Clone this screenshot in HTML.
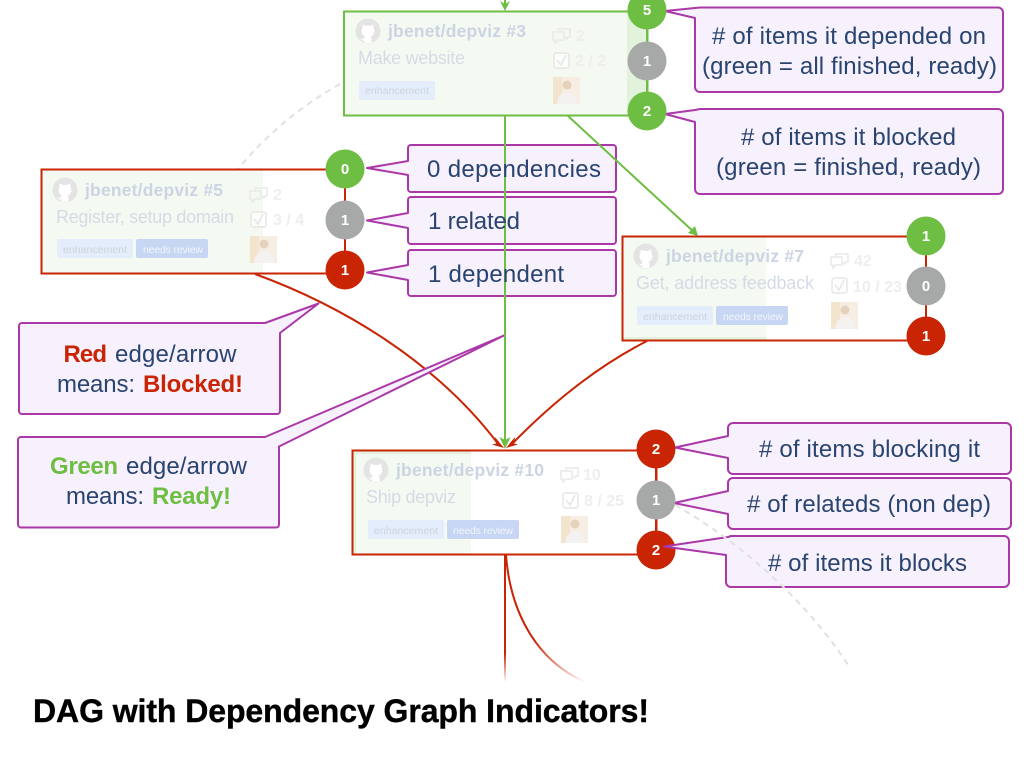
<!DOCTYPE html>
<html><head><meta charset="utf-8"><style>
html,body{margin:0;padding:0;background:#fff;width:1024px;height:768px;overflow:hidden}
svg{display:block}
text{font-family:"Liberation Sans",sans-serif}
.c{fill:#f6f1fc;stroke:#ab38a8;stroke-width:2;stroke-linejoin:round}
.t{font-size:24px;fill:#2a4470}
.b{font-size:24px;font-weight:bold}
.n{font-size:15px;font-weight:bold;fill:#fff;text-anchor:middle}
.h{font-size:17.5px;font-weight:bold;fill:#ccd4e3}
.s{font-size:18px;fill:#d5dbe6}
.m{font-size:16px;font-weight:bold;fill:#eeeeee}
.l1{font-size:10.5px;fill:#cdd4da}
.l2{font-size:10.5px;fill:#f2f6fd}
.e{fill:none;stroke-width:2}
</style></head><body>
<svg width="1024" height="768" viewBox="0 0 1024 768" xmlns="http://www.w3.org/2000/svg">
<defs>
<linearGradient id="fa" gradientUnits="userSpaceOnUse" x1="0" y1="650" x2="0" y2="682"><stop offset="0" stop-color="#c92505"/><stop offset=".1" stop-color="#c92505"/><stop offset="1" stop-color="#c92505" stop-opacity="0"/></linearGradient>
<linearGradient id="fb" gradientUnits="userSpaceOnUse" x1="535" y1="640" x2="585" y2="682"><stop offset="0" stop-color="#c92505"/><stop offset="1" stop-color="#c92505" stop-opacity="0"/></linearGradient>
<g id="gh"><circle cx="12" cy="12" r="12.5" fill="#e4e4e4"/><path d="M7 5.5L10 7Q12 6.5 14 7L17 5.5Q18 8 17.5 9.5Q19 11.5 18 14.5Q17 17 14.5 17.5Q15.5 18.5 15.5 20V24H8.5V21.5Q5.5 22 4.5 19.5Q6 20 8 20V18Q8.7 17.7 9.5 17.5Q7 17 6 14.5Q5 11.5 6.5 9.5Q6 8 7 5.5z" fill="#fff"/></g>
<g id="ic"><path d="M1 4h11v8H6l-3 3v-3H1z" fill="none" stroke="#e9e9e9" stroke-width="1.5"/><path d="M6 4V1h12v8h-2l-1 2-2-2" fill="none" stroke="#e9e9e9" stroke-width="1.5"/></g>
<g id="ck"><rect x="1" y="1" width="15" height="15" rx="2.5" fill="#fff" fill-opacity=".5" stroke="#e6e6e6" stroke-width="1.5"/><path d="M4 8l4 5 5-10" fill="none" stroke="#e6e6e6" stroke-width="1.5"/></g>
<g id="av"><rect width="27" height="27" fill="#f6eee2"/><rect width="9" height="27" fill="#f3e4cd"/><circle cx="14" cy="8" r="4.5" fill="#e6d2bc"/><path d="M4 27q1-11 10-12q9 1 10 12z" fill="#f4f1f1"/></g>
</defs>

<path d="M340 84Q280 118 238 169" fill="none" stroke="#e0e0e0" stroke-width="2" stroke-dasharray="6 5"/>

<rect x="344" y="12" width="303" height="103.5" fill="#f4faf2"/>
<rect x="627" y="12" width="20" height="103.5" fill="#e3f2dc"/>
<rect x="344" y="11.5" width="303.5" height="104" fill="none" stroke="#6fbe44" stroke-width="2"/>
<rect x="42" y="170" width="221" height="103.5" fill="#f4faf2"/>
<rect x="41.5" y="169.5" width="303.5" height="104" fill="none" stroke="#c92505" stroke-width="2"/>
<rect x="623" y="237" width="143" height="103.5" fill="#f4faf2"/>
<rect x="623" y="337" width="143" height="3" fill="#e3f2dc"/>
<rect x="622.5" y="236.5" width="303.5" height="104" fill="none" stroke="#c92505" stroke-width="2"/>
<rect x="353" y="451" width="118" height="103.5" fill="#f4faf2"/>
<rect x="353" y="451" width="118" height="3" fill="#e3f2dc"/>
<rect x="353" y="451" width="3" height="103" fill="#e3f2dc"/>
<rect x="352.5" y="450.5" width="304" height="104" fill="none" stroke="#c92505" stroke-width="2"/>

<g transform="translate(344,11)">
<use href="#gh" x="12" y="8"/>
<text class="h" x="44" y="26" textLength="138">jbenet/depviz #3</text>
<text class="s" x="14" y="53" textLength="107">Make website</text>
<rect x="15" y="70" width="76" height="19" rx="2" fill="#e3edfb"/>
<text class="l1" x="21" y="83" textLength="64">enhancement</text>
<use href="#ic" x="208" y="17"/><text class="m" x="232" y="30">2</text>
<use href="#ck" x="209" y="41"/><text class="m" x="231" y="55">2 / 2</text>
<use href="#av" x="209" y="66"/>
</g>
<g transform="translate(41,169)">
<use href="#gh" x="12" y="9"/>
<text class="h" x="44" y="27" textLength="138">jbenet/depviz #5</text>
<text class="s" x="15" y="54" textLength="178">Register, setup domain</text>
<rect x="16" y="70" width="76" height="19" rx="2" fill="#e3edfb"/>
<text class="l1" x="22" y="84" textLength="64">enhancement</text>
<rect x="95" y="70" width="72" height="19" rx="2" fill="#c6d6f3"/>
<text class="l2" x="102" y="84" textLength="60">needs review</text>
<use href="#ic" x="208" y="18"/><text class="m" x="232" y="31">2</text>
<use href="#ck" x="209" y="42"/><text class="m" x="232" y="56">3 / 4</text>
<use href="#av" x="209" y="67"/>
</g>
<g transform="translate(622,236)">
<use href="#gh" x="12" y="8"/>
<text class="h" x="44" y="26" textLength="138">jbenet/depviz #7</text>
<text class="s" x="14" y="53" textLength="178">Get, address feedback</text>
<rect x="15" y="70" width="76" height="19" rx="2" fill="#e3edfb"/>
<text class="l1" x="21" y="84" textLength="64">enhancement</text>
<rect x="94" y="70" width="72" height="19" rx="2" fill="#c6d6f3"/>
<text class="l2" x="101" y="84" textLength="60">needs review</text>
<use href="#ic" x="208" y="17"/><text class="m" x="232" y="30">42</text>
<use href="#ck" x="209" y="41"/><text class="m" x="231" y="56">10 / 23</text>
<use href="#av" x="209" y="66"/>
</g>
<g transform="translate(352,450)">
<use href="#gh" x="12" y="8"/>
<text class="h" x="44" y="26" textLength="148">jbenet/depviz #10</text>
<text class="s" x="14" y="53" textLength="90">Ship depviz</text>
<rect x="16" y="70" width="76" height="19" rx="2" fill="#e3edfb"/>
<text class="l1" x="22" y="84" textLength="64">enhancement</text>
<rect x="95" y="70" width="72" height="19" rx="2" fill="#c6d6f3"/>
<text class="l2" x="101" y="84" textLength="60">needs review</text>
<use href="#ic" x="208" y="17"/><text class="m" x="231" y="30">10</text>
<use href="#ck" x="210" y="42"/><text class="m" x="232" y="56">8 / 25</text>
<use href="#av" x="209" y="66"/>
</g>

<path class="e" stroke="#c92505" d="M255 274C340 305 435 360 499 445"/>
<path class="e" stroke="#c92505" d="M647 341C590 370 545 410 511 445"/>
<path class="e" stroke="url(#fa)" d="M505 555V682"/>
<path class="e" stroke="url(#fb)" d="M506 555C510 610 535 660 585 682"/>
<path d="M495 437l9 11-12-3.5 4-1z" fill="#c92505"/>
<path d="M515 437l-9 11 12-3.5-4-1z" fill="#c92505"/>

<path class="c" d="M700 7.5H998a5 5 0 0 1 5 5V87a5 5 0 0 1-5 5H700a5 5 0 0 1-5-5V18L665 11L695 8z"/>
<path class="c" d="M700 109H998a5 5 0 0 1 5 5V189a5 5 0 0 1-5 5H700a5 5 0 0 1-5-5V122L665 114L695 110z"/>
<path class="c" d="M411 145H613a3 3 0 0 1 3 3V189a3 3 0 0 1-3 3H411a3 3 0 0 1-3-3V175L367 168L408 161V148a3 3 0 0 1 3-3z"/>
<path class="c" d="M411 197H613a3 3 0 0 1 3 3V241a3 3 0 0 1-3 3H411a3 3 0 0 1-3-3V228L367 220.5L408 213V200a3 3 0 0 1 3-3z"/>
<path class="c" d="M411 250H613a3 3 0 0 1 3 3V293a3 3 0 0 1-3 3H411a3 3 0 0 1-3-3V280L367 272.5L408 265V253a3 3 0 0 1 3-3z"/>
<path class="c" d="M22 323H265L318.5 303.5L280 333V411a3 3 0 0 1-3 3H22a3 3 0 0 1-3-3V326a3 3 0 0 1 3-3z"/>
<path class="c" d="M21 437H265L505 335L279 446.5V524.5a3 3 0 0 1-3 3H21a3 3 0 0 1-3-3V440a3 3 0 0 1 3-3z"/>
<path class="c" d="M733 423H1006a5 5 0 0 1 5 5V469a5 5 0 0 1-5 5H733a5 5 0 0 1-5-5V458L675 447.5L728 436V428a5 5 0 0 1 5-5z"/>
<path class="c" d="M733 478H1006a5 5 0 0 1 5 5V524a5 5 0 0 1-5 5H733a5 5 0 0 1-5-5V514L674 503L728 491V483a5 5 0 0 1 5-5z"/>

<path class="e" stroke="#6fbe44" d="M505 0V8M505 115V446"/>
<path class="e" stroke="#6fbe44" d="M568 116L695 233"/>
<path d="M500 1L505 11L510 1L505 4z" fill="#6fbe44"/>
<path d="M499.5 437L505 449L510.5 437L505 440z" fill="#6fbe44"/>
<path d="M698 236L688 233L695 226z" fill="#6fbe44"/>

<path class="e" stroke="#6fbe44" d="M647 10V111"/>
<path class="e" stroke="#c92505" d="M345 169V270M926 236V336M656 449V550"/>
<circle cx="647" cy="10" r="19.5" fill="#6fbe44"/><text class="n" x="647" y="15">5</text>
<circle cx="647" cy="61" r="19.5" fill="#a6a9a7"/><text class="n" x="647" y="66">1</text>
<circle cx="647" cy="111" r="19.5" fill="#6fbe44"/><text class="n" x="647" y="116">2</text>
<circle cx="345" cy="169" r="19.5" fill="#6fbe44"/><text class="n" x="345" y="174">0</text>
<circle cx="345" cy="220" r="19.5" fill="#a6a9a7"/><text class="n" x="345" y="225">1</text>
<circle cx="345" cy="270" r="19.5" fill="#c92505"/><text class="n" x="345" y="275">1</text>
<circle cx="926" cy="236" r="19.5" fill="#6fbe44"/><text class="n" x="926" y="241">1</text>
<circle cx="926" cy="286" r="19.5" fill="#a6a9a7"/><text class="n" x="926" y="291">0</text>
<circle cx="926" cy="336" r="19.5" fill="#c92505"/><text class="n" x="926" y="341">1</text>
<circle cx="656" cy="449" r="19.5" fill="#c92505"/><text class="n" x="656" y="454">2</text>
<circle cx="656" cy="500" r="19.5" fill="#a6a9a7"/><text class="n" x="656" y="505">1</text>
<circle cx="656" cy="550" r="19.5" fill="#c92505"/><text class="n" x="656" y="555">2</text>

<path class="c" d="M731 536H1004a5 5 0 0 1 5 5V582a5 5 0 0 1-5 5H731a5 5 0 0 1-5-5V555L664 546.5L728 537z"/>
<path d="M675 505C745 545 810 605 850 668" fill="none" stroke="#e0e0e0" stroke-width="2" stroke-dasharray="6 5"/>

<text class="t" x="712" y="44" textLength="274"># of items it depended on</text>
<text class="t" x="702" y="74" textLength="295">(green = all finished, ready)</text>
<text class="t" x="741" y="145" textLength="215"># of items it blocked</text>
<text class="t" x="716" y="175" textLength="265">(green = finished, ready)</text>
<text class="t" x="427" y="177" textLength="174">0 dependencies</text>
<text class="t" x="428" y="229" textLength="92">1 related</text>
<text class="t" x="428" y="282" textLength="136">1 dependent</text>
<text class="b" x="63.5" y="362" textLength="43.5" fill="#c92505">Red</text>
<text class="t" x="115" y="362" textLength="121.5">edge/arrow</text>
<text class="t" x="57" y="392" textLength="78">means:</text>
<text class="b" x="143" y="392" textLength="100" fill="#c92505">Blocked!</text>
<text class="b" x="50" y="474" textLength="68" fill="#6fbe44">Green</text>
<text class="t" x="126" y="474" textLength="121">edge/arrow</text>
<text class="t" x="66" y="504" textLength="78">means:</text>
<text class="b" x="152" y="504" textLength="79" fill="#6fbe44">Ready!</text>
<text class="t" x="759" y="457" textLength="221"># of items blocking it</text>
<text class="t" x="747" y="512" textLength="244"># of relateds (non dep)</text>
<text class="t" x="768" y="571" textLength="199"># of items it blocks</text>

<text x="33" y="722" font-size="32" font-weight="bold" fill="#000" stroke="#000" stroke-width=".4" textLength="616">DAG with Dependency Graph Indicators!</text>
</svg>
</body></html>
